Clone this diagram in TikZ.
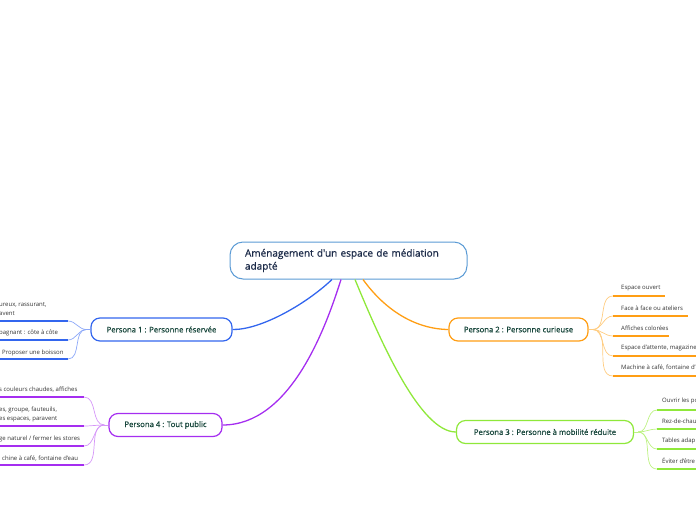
\documentclass[tikz,border=0pt]{standalone}
\usepackage{fontspec}
\setmainfont{Open Sans}
\newfontfamily\semibfont[FakeBold=0.7]{Open Sans}
\definecolor{cborder}{HTML}{5B9BD5}
\definecolor{ctext}{HTML}{1B2A48}
\definecolor{ptext}{HTML}{17463B}
\definecolor{ltext}{HTML}{333333}
\definecolor{cblue}{HTML}{3366EE}
\definecolor{lblue}{HTML}{8CA8F8}
\definecolor{corange}{HTML}{FF9E14}
\definecolor{lorange}{HTML}{FFCC80}
\definecolor{cgreen}{HTML}{8FE83A}
\definecolor{lgreen}{HTML}{BDF283}
\definecolor{cpurple}{HTML}{A52EF0}
\definecolor{lpurple}{HTML}{D596F8}
\tikzset{
  centralbox/.style={draw=cborder, line width=1pt, rounded corners=13pt, fill=white,
    minimum width=237pt, minimum height=37pt, text width=207pt, inner xsep=15pt,
    align=left, text=ctext, font=\semibfont\fontsize{10}{13}\selectfont},
  personabox/.style={line width=1.2pt, rounded corners=9pt, fill=white,
    minimum height=23pt, inner sep=0pt, text=ptext, font=\semibfont\fontsize{7.7}{9}\selectfont},
  leaftext/.style={inner sep=0pt, anchor=west, text=ltext, align=left,
    font=\fontsize{6}{9}\selectfont},
  mainconn/.style={line width=1.3pt},
  leafconn/.style={line width=0.7pt},
  uline/.style={line width=2pt},
}
\begin{document}
\begin{tikzpicture}[x=1pt,y=-1pt]
\useasboundingbox (0,0) rectangle (696,520);
\clip (0,0) rectangle (696,520);

\node[centralbox] (c) at (348.5,260.5) {Aménagement d'un espace de médiation\\adapté};
\node[personabox, draw=cblue, minimum width=141pt] (p1) at (161.5,329.5) {Persona 1 : Personne réservée};
\node[personabox, draw=corange, minimum width=139pt] (p2) at (518.5,329.5) {Persona 2 : Personne curieuse};
\node[personabox, draw=cgreen, minimum width=177pt] (p3) at (545,432) {Persona 3 : Personne à mobilité réduite};
\node[personabox, draw=cpurple, minimum width=113pt] (p4) at (165.5,425) {Persona 4 : Tout public};

\draw[mainconn, cblue] ([xshift=-16.5pt]c.south) .. controls (305,305) and (260,330) .. (p1.east);
\draw[mainconn, cpurple] ([xshift=-7.5pt]c.south) .. controls (325,330) and (290,425) .. (p4.east);
\draw[mainconn, cgreen] ([xshift=6.5pt]c.south) .. controls (380,340) and (420,432) .. (p3.west);
\draw[mainconn, corange] ([xshift=14.5pt]c.south) .. controls (385,310) and (415,329) .. (p2.west);

% ---- Persona 2 leaves
\coordinate (h2) at ([xshift=4pt]p2.east);
\draw[leafconn, lorange] (p2.east) -- (h2);
\foreach \i/\y/\e in {1/296/665, 2/316/688, 3/336/669, 4/356/700, 5/376/700}{
  \coordinate (u2\i s) at (613,\y);
  \coordinate (u2\i e) at (\e,\y);
  \draw[leafconn, lorange] (h2) to[out=0,in=180] (u2\i s);
  \draw[uline, corange] (u2\i s) -- (u2\i e);
}
\node[leaftext] (l21) at (621,288) {Espace ouvert};
\node[leaftext] (l22) at (621,308) {Face à face ou ateliers};
\node[leaftext] (l23) at (621,328) {Affiches colorées};
\node[leaftext] (l24) at (621,348) {Espace d'attente, magazine};
\node[leaftext] (l25) at (621,368) {Machine à café, fontaine d'};

% ---- Persona 3 leaves
\coordinate (h3) at ([xshift=4pt]p3.east);
\draw[leafconn, lgreen] (p3.east) -- (h3);
\foreach \i/\y in {1/410, 2/429, 3/449, 4/469}{
  \coordinate (u3\i s) at (657,\y);
  \coordinate (u3\i e) at (700,\y);
  \draw[leafconn, lgreen] (h3) to[out=0,in=180] (u3\i s);
  \draw[uline, cgreen] (u3\i s) -- (u3\i e);
}
\node[leaftext] (l31) at (662,401) {Ouvrir les po};
\node[leaftext] (l32) at (662,421) {Rez-de-chau};
\node[leaftext] (l33) at (662,441) {Tables adap};
\node[leaftext] (l34) at (662,461) {Éviter d'être};

% ---- Persona 1 leaves
\coordinate (h1) at ([xshift=-4pt]p1.west);
\draw[leafconn, lblue] (p1.west) -- (h1);
\foreach \i/\y in {1/321, 2/340, 3/359}{
  \coordinate (u1\i s) at (68,\y);
  \coordinate (u1\i e) at (-5,\y);
  \draw[leafconn, lblue] (h1) to[out=180,in=0] (u1\i s);
  \draw[uline, cblue] (u1\i s) -- (u1\i e);
}
\node[leaftext] (l11) at (-1,309.5) {ureux, rassurant,\\avent};
\node[leaftext] (l12) at (-1,333) {pagnant : côte à côte};
\node[leaftext] (l13) at (2,353) {Proposer une boisson};

% ---- Persona 4 leaves
\coordinate (h4) at ([xshift=-4pt]p4.west);
\draw[leafconn, lpurple] (p4.west) -- (h4);
\foreach \i/\y in {1/397, 2/426, 3/446, 4/465}{
  \coordinate (u4\i s) at (84,\y);
  \coordinate (u4\i e) at (-5,\y);
  \draw[leafconn, lpurple] (h4) to[out=180,in=0] (u4\i s);
  \draw[uline, cpurple] (u4\i s) -- (u4\i e);
}
\node[leaftext] (l41) at (-1,390) {s couleurs chaudes, affiches};
\node[leaftext] (l42) at (-1,414.5) {es, groupe, fauteuils,\\es espaces, paravent};
\node[leaftext] (l43) at (-1,439) {ge naturel / fermer les stores};
\node[leaftext] (l44) at (2,459) {chine à café, fontaine d'eau};
\end{tikzpicture}
\end{document}
